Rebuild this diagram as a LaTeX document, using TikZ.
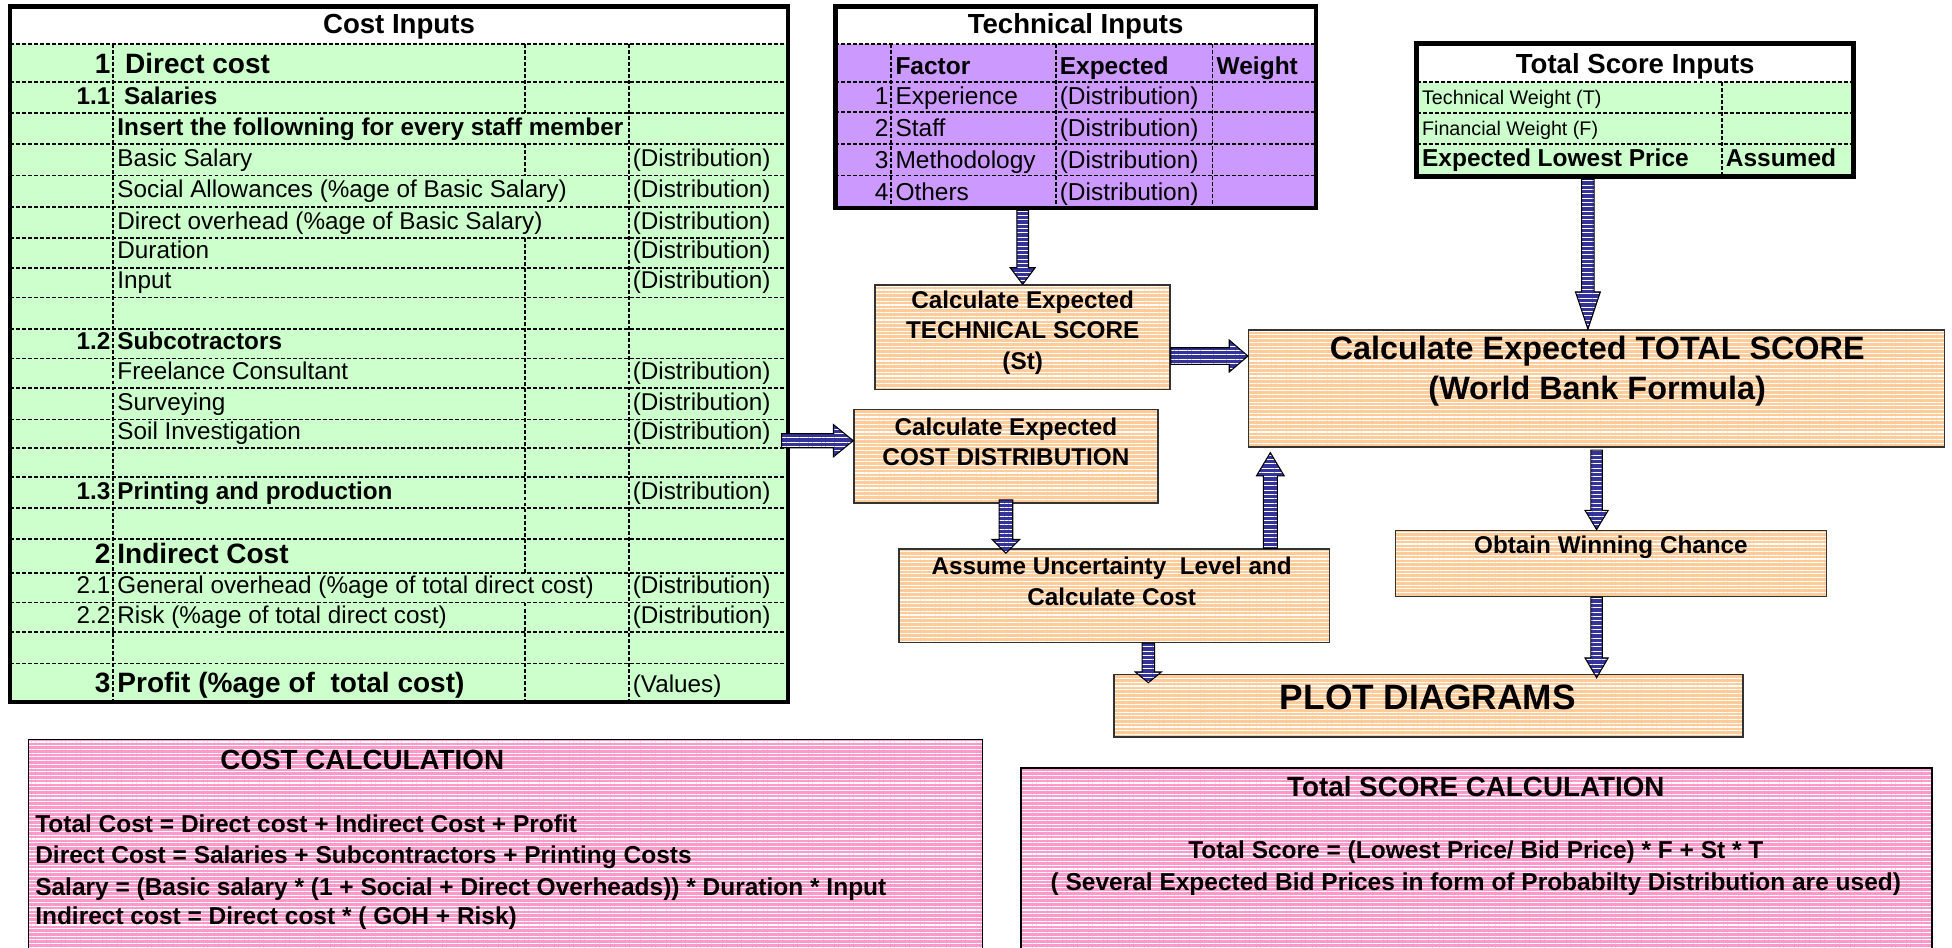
\documentclass[tikz,border=0pt]{standalone}
\usepackage{fontspec}
\setmainfont{Liberation Sans}
\usetikzlibrary{positioning,calc,fit,patterns.meta}
\definecolor{cellgreen}{HTML}{CCFFCC}
\definecolor{cellviolet}{HTML}{CC99FF}
\definecolor{boxorange}{HTML}{FFCC99}
\definecolor{boxpink}{HTML}{FF99CC}
\definecolor{arrowblue}{HTML}{333399}
\newcommand{\fs}[2]{\fontsize{#1}{#2}\selectfont}
% block arrow: shaft half width, head half width, head length, from, to
\newcommand{\blkarrow}[5]{%
  \coordinate (ba-s) at #4;
  \coordinate (ba-e) at #5;
  \coordinate (ba-n) at ($(ba-e)!#3!(ba-s)$);
  \draw[blockarrow] ($(ba-s)!#1!90:(ba-e)$) -- ($(ba-n)!#1!90:(ba-e)$)
    -- ($(ba-n)!#2!90:(ba-e)$) -- (ba-e) -- ($(ba-n)!#2!-90:(ba-e)$)
    -- ($(ba-n)!#1!-90:(ba-e)$) -- ($(ba-s)!#1!-90:(ba-e)$) -- cycle;}

\begin{document}
\begin{tikzpicture}
       [x=0.6pt,y=-0.6pt,
        stripes/.style={pattern={Lines[angle=0,distance=1.8pt,line width=0.55pt]},
                        pattern color=white},
        obox/.style={preaction={fill=boxorange},stripes,draw=black!80,
                     line width=0.7pt,inner sep=0pt},
        pbox/.style={preaction={fill=boxpink},stripes,draw=black,
                     line width=0.7pt,inner sep=0pt},
        blockarrow/.style={preaction={fill=arrowblue},
                           pattern={Lines[angle=0,distance=2.1pt,line width=0.35pt]},
                           pattern color=white,draw=black,line width=0.5pt},
        grid/.style={line width=0.9pt,dash pattern=on 1.9pt off 1pt},
        frame/.style={draw=black,line width=2.2pt,inner sep=0pt},
        title/.style={font=\fs{13.3}{16}\bfseries,inner sep=0pt,anchor=base},
        cell/.style={font=\fs{11.7}{14},inner sep=0pt},
        bold/.style={font=\fs{11.7}{14}\bfseries,inner sep=0pt},
        big/.style={font=\fs{13.5}{16}\bfseries,inner sep=0pt},
        tcell/.style={font=\fs{11.8}{14},inner sep=0pt},
        otext/.style={font=\fs{11.7}{14.7}\bfseries,align=center,inner sep=0pt},
        ptext/.style={font=\fs{11.8}{15}\bfseries,inner sep=0pt}]
\useasboundingbox (0,0) rectangle (1568,761);

% cost inputs
\fill[cellgreen] (8,35) rectangle (633,564);
\foreach \y in {35,66,91,116,141,166,191,215,239,264,288,312,337,360,383,408,433,460,484,508,533}
  \draw[grid] (8,\y) -- (633,\y);
\draw[grid] (91,35) -- (91,564) (505,35) -- (505,564)
  (422,35) -- (422,91) (422,116) -- (422,141) (422,191) -- (422,460) (422,484) -- (422,564);
\node[frame,fit={(8,5) (633,564)}] (cost) {};
\node[title] (cost-t) at (320.5,27) {Cost Inputs};
\foreach \yb/\st/\n [count=\i] in {59/big/1,84/bold/1.1,281/bold/1.2,401/bold/1.3,
                                   453/big/2,477/cell/2.1,501/cell/2.2,556/big/3}
  \node[\st,anchor=base east] (cnum\i) at (89,\yb) {\n};
\foreach \yb/\st/\t [count=\i] in {59/big/{\ Direct cost},84/bold/{\ Salaries},
    109/bold/{Insert the followning for every staff member},134/cell/{Basic Salary},
    159/cell/{Social Allowances (\%age of Basic Salary)},
    184/cell/{Direct overhead (\%age of Basic Salary)},208/cell/Duration,232/cell/Input,
    281/bold/Subcotractors,305/cell/{Freelance Consultant},330/cell/Surveying,
    353/cell/{Soil Investigation},401/bold/{Printing and production},453/big/{Indirect Cost},
    477/cell/{General overhead (\%age of total direct cost)},
    501/cell/{Risk (\%age of total direct cost)},556/big/{Profit (\%age of \ total cost)}}
  \node[\st,anchor=base west] (ctxt\i) at (94,\yb) {\t};
\foreach \yb [count=\i] in {134,159,184,208,232,305,330,353,401,477,501}
  \node[cell,anchor=base west] (cval\i) at (508,\yb) {(Distribution)};
\node[cell,anchor=base west] (cval12) at (508,556) {(Values)};

% technical inputs
\fill[cellviolet] (671,35) rectangle (1057,167);
\foreach \y in {35,66,90,116,141}
  \draw[grid] (671,\y) -- (1057,\y);
\draw[grid] (716,35) -- (716,167) (848,35) -- (848,167) (974,35) -- (974,167);
\node[frame,fit={(671,5) (1057,167)}] (tech) {};
\node[title] (tech-t) at (864,27) {Technical Inputs};
\node[tcell,font=\fs{11.8}{14}\bfseries,anchor=base west] (tech-f) at (719,60) {Factor};
\node[tcell,font=\fs{11.8}{14}\bfseries,anchor=base west] (tech-e) at (851,60) {Expected};
\node[tcell,font=\fs{11.8}{14}\bfseries,anchor=base west] (tech-w) at (977,60) {Weight};
\foreach \yb/\f [count=\i] in {84/Experience,110/Staff,135/Methodology,161/Others}{
  \node[tcell,anchor=base east] (tnum\i) at (714,\yb) {\i};
  \node[tcell,anchor=base west] (tfac\i) at (719,\yb) {\f};
  \node[tcell,anchor=base west] (texp\i) at (851,\yb) {(Distribution)};
}

% total score inputs
\fill[cellgreen] (1138,66) rectangle (1489,142);
\foreach \y in {66,91,116}
  \draw[grid] (1138,\y) -- (1489,\y);
\draw[grid] (1383,66) -- (1383,142);
\node[frame,fit={(1138,35) (1489,142)}] (tsi) {};
\node[title] (tsi-t) at (1313.5,59) {Total Score Inputs};
\node[font=\fs{9.5}{12},inner sep=0pt,anchor=base west] (tsi-tw) at (1142,84) {Technical Weight (T)};
\node[font=\fs{9.5}{12},inner sep=0pt,anchor=base west] (tsi-fw) at (1142,109) {Financial Weight (F)};
\node[font=\fs{11.8}{14}\bfseries,inner sep=0pt,anchor=base west] (tsi-lp) at (1142,134) {Expected Lowest Price};
\node[font=\fs{11.8}{14}\bfseries,inner sep=0pt,anchor=base west] (tsi-as) at (1386,134) {Assumed};

% process boxes
\node[obox,fit={(703,229) (940,313)}] (ts) {};
\node[otext] (ts-t) at (821.5,267) {Calculate Expected\\TECHNICAL SCORE\\(St)};
\node[obox,fit={(686,329) (930,404)}] (cd) {};
\node[otext] (cd-t) at (808,355) {Calculate Expected\\COST DISTRIBUTION};
\node[obox,fit={(722,441) (1068,516)}] (unc) {};
\node[otext] (unc-t) at (893,467) {Assume Uncertainty\ \ Level and\\Calculate Cost};
\node[obox,fit={(1003,265) (1562,359)}] (tot) {};
\node[otext,font=\fs{15.6}{19.2}\bfseries] (tot-t) at (1283,298) {Calculate Expected TOTAL SCORE\\(World Bank Formula)};
\node[obox,fit={(1121,426) (1467,479)}] (ow) {};
\node[otext] (ow-t) at (1294,440) {Obtain Winning Chance};
\node[obox,fit={(895,542) (1400,592)}] (plot) {};
\node[otext,font=\fs{17}{20}\bfseries] (plot-t) at (1147,560) {PLOT DIAGRAMS};

% calculation notes
\node[pbox,fit={(23,594) (789,770)}] (cc) {};
\node[ptext,font=\fs{13.4}{16}\bfseries,anchor=base] (cc-t) at (291,618) {COST CALCULATION};
\node[ptext,anchor=base west] (cc-1) at (28,669) {Total Cost = Direct cost + Indirect Cost + Profit};
\node[ptext,anchor=base west] (cc-2) at (28,694) {Direct Cost = Salaries + Subcontractors + Printing Costs};
\node[ptext,anchor=base west] (cc-3) at (28,719) {Salary = (Basic salary * (1 + Social + Direct Overheads)) * Duration * Input};
\node[ptext,anchor=base west] (cc-4) at (28,743) {Indirect cost = Direct cost * ( GOH + Risk)};
\node[pbox,fit={(820,617) (1552,770)}] (sc) {};
\node[ptext,font=\fs{13.4}{16}\bfseries,anchor=base] (sc-t) at (1185.5,640) {Total SCORE CALCULATION};
\node[ptext,anchor=base] (sc-1) at (1185.5,690) {Total Score = (Lowest Price/ Bid Price) * F + St * T};
\node[ptext,anchor=base] (sc-2) at (1185.5,715) {( Several Expected Bid Prices in form of Probabilty Distribution are used)};

% arrows
\coordinate (tot-in) at ($(tot.north)+(-7,0)$);
\coordinate (ts-out) at ($(ts.east)+(0,15)$);
\coordinate (cd-in) at ($(cd.west)+(0,-12.5)$);
\coordinate (cost-out) at ($(cd-in -| cost.east)+(-7,0)$);
\coordinate (tot-up) at ($(tot.south west)+(18,4)$);
\coordinate (plot-in) at ($(plot.north west)+(28,7)$);
\blkarrow{2.8pt}{6pt}{8pt}{(tech.south -| ts.north)}{(ts.north)}
\blkarrow{3pt}{6pt}{18pt}{(tsi.south -| tot-in)}{(tot-in)}
\blkarrow{4pt}{7.7pt}{9pt}{(ts-out)}{(ts-out -| tot.west)}
\blkarrow{3.4pt}{7.8pt}{9.6pt}{(cost-out)}{(cd-in)}
\blkarrow{3.3pt}{6.7pt}{6.7pt}{($(cd.south)+(0,-3)$)}{($(cd.south |- unc.north)+(0,4)$)}
\blkarrow{3.4pt}{6.7pt}{11.2pt}{(tot-up |- unc.north)}{(tot-up)}
\blkarrow{2.8pt}{5.6pt}{9.3pt}{($(tot.south)+(0,2)$)}{(tot.south |- ow.north)}
\blkarrow{2.8pt}{5.6pt}{9.6pt}{(ow.south -| tot.south)}{($(plot.north -| tot.south)+(0,3)$)}
\blkarrow{3pt}{6.3pt}{5.2pt}{(plot-in |- unc.south)}{(plot-in)}
\end{tikzpicture}
\end{document}
